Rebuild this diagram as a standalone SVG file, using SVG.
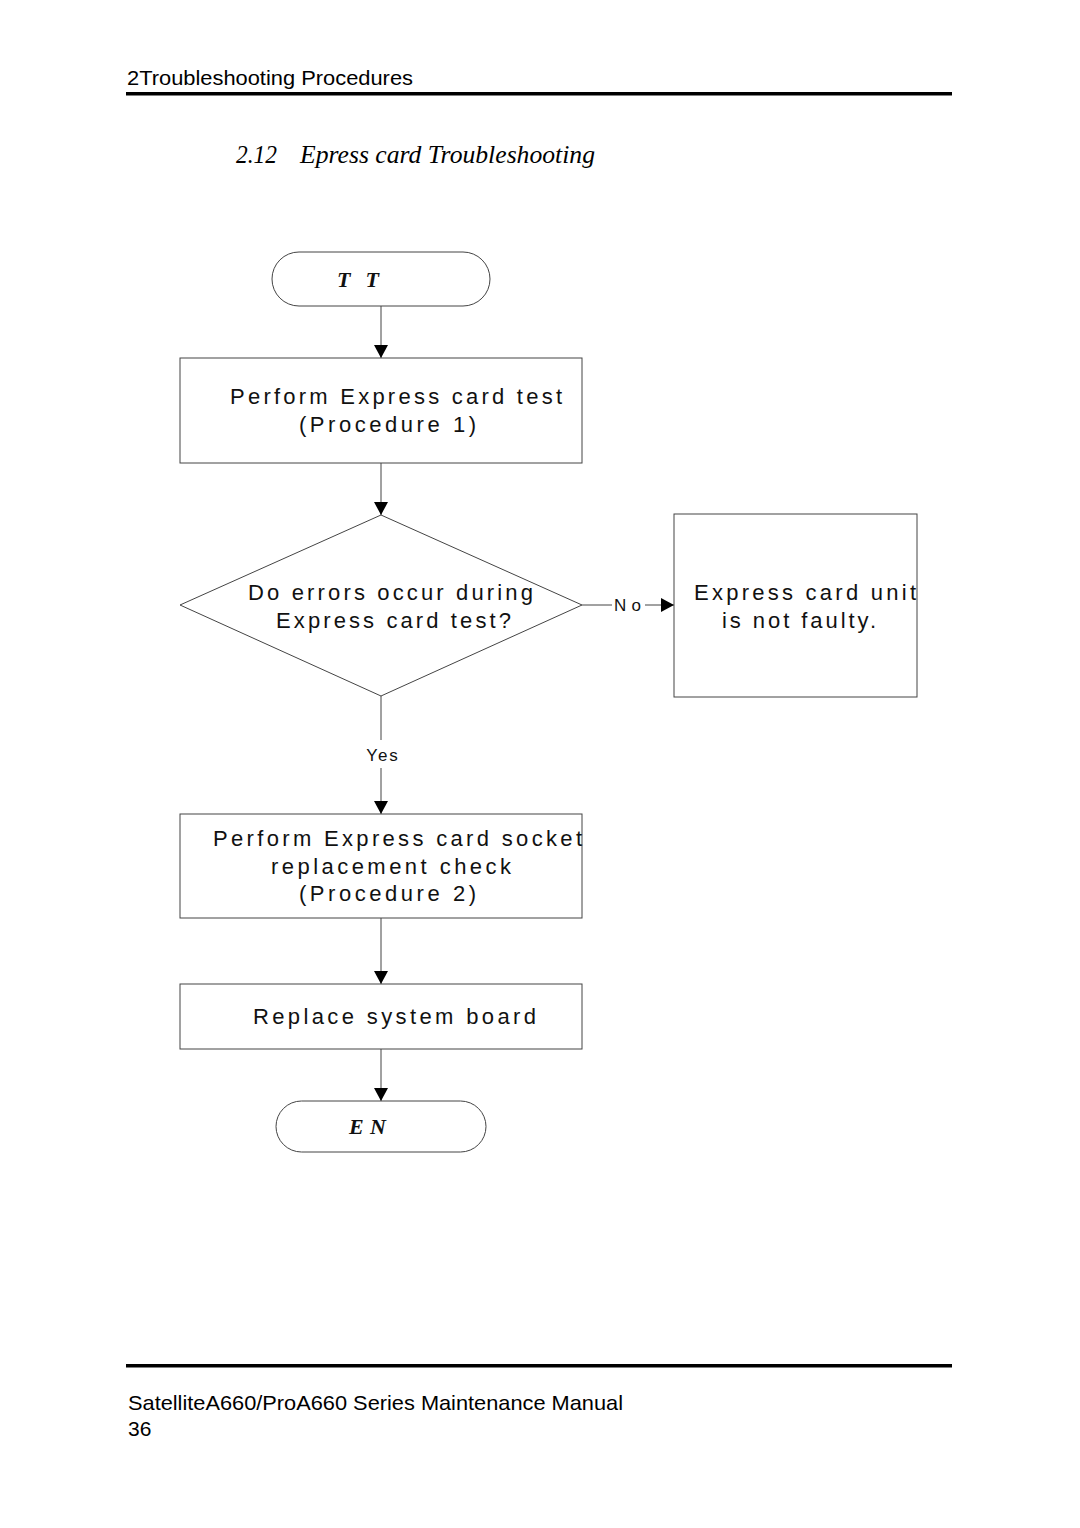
<svg xmlns="http://www.w3.org/2000/svg" width="1080" height="1528" viewBox="0 0 1080 1528">
<style>
.sh{fill:#fff;stroke:#444;stroke-width:1}
.t{font-family:"Liberation Sans",Arial,sans-serif;font-size:22px;fill:#111}
.lbl{font-family:"Liberation Sans",Arial,sans-serif;font-size:17px;fill:#111}
.term{font-family:"Liberation Serif","Times New Roman",serif;font-size:22px;font-weight:bold;font-style:italic;fill:#111}
.hd{font-family:"Liberation Sans",Arial,sans-serif;font-size:21px;fill:#000}
.ln{stroke:#444;stroke-width:1;fill:none}
</style>
<defs>
<marker id="ar" markerWidth="14" markerHeight="14" refX="13" refY="7" orient="auto" markerUnits="userSpaceOnUse">
<path d="M0,0 L13,7 L0,14 z" fill="#000"/>
</marker>
</defs>
<rect width="1080" height="1528" fill="#fff"/>
<g id="header">
<text class="hd" x="127" y="85" textLength="286" lengthAdjust="spacingAndGlyphs">2Troubleshooting Procedures</text>
<rect x="126" y="92" width="826" height="3.5" fill="#000"/>
<text x="236" y="163" font-family="'Liberation Serif','Times New Roman',serif" font-style="italic" font-size="26" fill="#000" textLength="41" lengthAdjust="spacingAndGlyphs">2.12</text>
<text x="300" y="163" font-family="'Liberation Serif','Times New Roman',serif" font-style="italic" font-size="26" fill="#000" textLength="295" lengthAdjust="spacingAndGlyphs">Epress card Troubleshooting</text>
</g>
<g id="connectors">
<line class="ln" x1="381" y1="306" x2="381" y2="358" marker-end="url(#ar)"/>
<line class="ln" x1="381" y1="463" x2="381" y2="515" marker-end="url(#ar)"/>
<line class="ln" x1="582" y1="605" x2="612" y2="605"/>
<text class="lbl" x="614" y="611" textLength="27" lengthAdjust="spacing">No</text>
<line class="ln" x1="645" y1="605" x2="674" y2="605" marker-end="url(#ar)"/>
<line class="ln" x1="381" y1="696" x2="381" y2="740"/>
<text class="lbl" x="383" y="761" text-anchor="middle" letter-spacing="2">Yes</text>
<line class="ln" x1="381" y1="768" x2="381" y2="814" marker-end="url(#ar)"/>
<line class="ln" x1="381" y1="918" x2="381" y2="984" marker-end="url(#ar)"/>
<line class="ln" x1="381" y1="1049" x2="381" y2="1101" marker-end="url(#ar)"/>
</g>
<g id="start">
<rect class="sh" x="272" y="252" width="218" height="54" rx="27" ry="27"/>
<text class="term" x="337" y="287" textLength="42" lengthAdjust="spacing">T T</text>
</g>
<g id="proc1">
<rect class="sh" x="180" y="358" width="402" height="105"/>
<text class="t" x="230" y="404" textLength="332" lengthAdjust="spacing">Perform Express card test</text>
<text class="t" x="299" y="432" textLength="177" lengthAdjust="spacing">(Procedure 1)</text>
</g>
<g id="decision">
<polygon class="sh" points="381,515 582,605 381,696 180,605"/>
<text class="t" x="248" y="600" textLength="285" lengthAdjust="spacing">Do errors occur during</text>
<text class="t" x="276" y="628" textLength="235" lengthAdjust="spacing">Express card test?</text>
</g>
<g id="notfaulty">
<rect class="sh" x="674" y="514" width="243" height="183"/>
<text class="t" x="694" y="600" textLength="222" lengthAdjust="spacing">Express card unit</text>
<text class="t" x="722" y="628" textLength="154" lengthAdjust="spacing">is not faulty.</text>
</g>
<g id="proc2">
<rect class="sh" x="180" y="814" width="402" height="104"/>
<text class="t" x="213" y="846" textLength="369" lengthAdjust="spacing">Perform Express card socket</text>
<text class="t" x="271" y="874" textLength="240" lengthAdjust="spacing">replacement check</text>
<text class="t" x="299" y="901" textLength="177" lengthAdjust="spacing">(Procedure 2)</text>
</g>
<g id="replace">
<rect class="sh" x="180" y="984" width="402" height="65"/>
<text class="t" x="253" y="1024" textLength="283" lengthAdjust="spacing">Replace system board</text>
</g>
<g id="end">
<rect class="sh" x="276" y="1101" width="210" height="51" rx="25.5" ry="25.5"/>
<text class="term" x="349" y="1134" textLength="37" lengthAdjust="spacing">EN</text>
</g>
<g id="footer">
<rect x="126" y="1364" width="826" height="3.5" fill="#000"/>
<text class="hd" x="128" y="1410" textLength="495" lengthAdjust="spacingAndGlyphs">SatelliteA660/ProA660 Series Maintenance Manual</text>
<text class="hd" x="128" y="1436">36</text>
</g>
</svg>
